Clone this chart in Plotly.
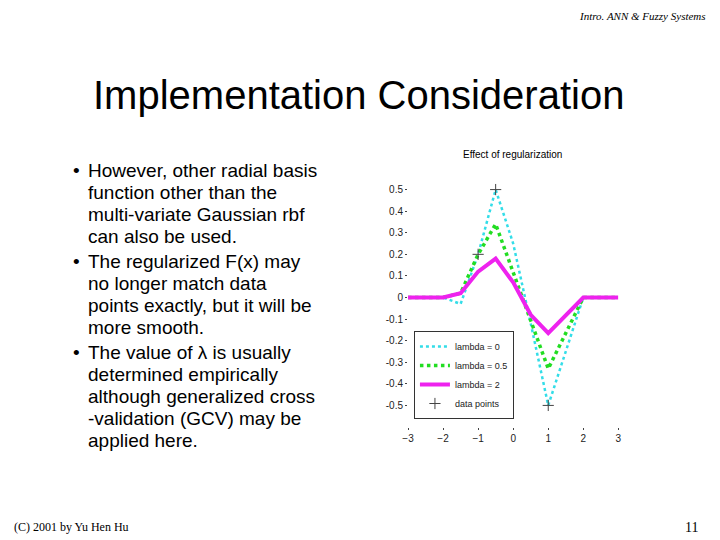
import plotly.graph_objects as go

x = [-3, -2, -1.5, -1, -0.5, 0, 0.5, 1, 2, 3]
lam0 = [0, 0, -0.03, 0.2, 0.5, 0.25, -0.12, -0.5, 0, 0]
lam05 = [0, 0, 0.02, 0.2, 0.34, 0.12, -0.1, -0.33, 0, 0]
lam2 = [0, 0, 0.02, 0.12, 0.18, 0.07, -0.08, -0.165, 0, 0]
data_x = [-1, -0.5, 1]
data_y = [0.2, 0.5, -0.5]
ytick_vals = [-0.5, -0.4, -0.3, -0.2, -0.1, 0, 0.1, 0.2, 0.3, 0.4, 0.5]
ytick_text = ["-0.5", "-0.4", "-0.3", "-0.2", "-0.1", "0", "0.1", "0.2", "0.3", "0.4", "0.5"]

bullets = [
    ["However, other radial basis", "function other than the",
     "multi-variate Gaussian rbf", "can also be used."],
    ["The regularized F(x) may", "no longer match data",
     "points exactly, but it will be", "more smooth."],
    ["The value of λ is usually", "determined empirically",
     "although generalized cross", "-validation (GCV) may be", "applied here."],
]

# the page body shifts the figure by ~8px, so positions are compensated
OFF = 8
W, H = 720, 540


def px(v):
    return (v - OFF) / W


def py(v):
    return 1 - (v - OFF) / H


fig = go.Figure()
fig.add_trace(go.Scatter(x=x, y=lam0, name="lambda = 0", mode="lines",
                         line=dict(color="#33dde8", width=2.5, dash="dot")))
fig.add_trace(go.Scatter(x=x, y=lam05, name="lambda = 0.5", mode="lines",
                         line=dict(color="#22dd22", width=3.5, dash="dot")))
fig.add_trace(go.Scatter(x=x, y=lam2, name="lambda = 2", mode="lines",
                         line=dict(color="#ee22ee", width=4)))
fig.add_trace(go.Scatter(x=data_x, y=data_y, name="data points", mode="markers",
                         marker=dict(symbol="cross-thin", size=8, color="black",
                                     line=dict(color="#444", width=1))))

ann = []
y0 = 170
for group in bullets:
    for i, line in enumerate(group):
        ann.append(dict(x=px(81), y=py(y0), text=line, xanchor="left",
                        font=dict(family="Liberation Sans", size=19)))
        if i == 0:
            ann.append(dict(x=px(66), y=py(y0), text="•", xanchor="left",
                            font=dict(family="Liberation Sans", size=19)))
        y0 += 22
    y0 += 3

ann += [
    dict(x=px(711), y=py(16), text="<i>Intro. ANN & Fuzzy Systems</i>", xanchor="right",
         font=dict(family="Liberation Serif", size=11)),
    dict(x=px(357), y=py(95), text="Implementation Consideration", xanchor="center",
         font=dict(family="Liberation Sans", size=40)),
    dict(x=px(6), y=py(527), text="(C) 2001 by Yu Hen Hu", xanchor="left",
         font=dict(family="Liberation Serif", size=12)),
    dict(x=px(703), y=py(527), text="11", xanchor="right",
         font=dict(family="Liberation Serif", size=14)),
    dict(x=px(513), y=py(155), text="Effect of regularization", xanchor="center",
         font=dict(family="Liberation Sans", size=10)),
]
for a in ann:
    a.update(xref="paper", yref="paper", showarrow=False, yanchor="middle")
    a["font"]["color"] = "black"

fig.update_layout(
    width=W, height=H, margin=dict(l=0, r=0, t=0, b=0),
    paper_bgcolor="white", plot_bgcolor="white",
    annotations=ann,
    showlegend=True,
    legend=dict(x=px(413), y=py(419), xanchor="left", yanchor="bottom",
                bgcolor="white", bordercolor="#333", borderwidth=1,
                font=dict(family="Liberation Sans", size=9, color="#222"),
                tracegroupgap=0, itemwidth=30),
    xaxis=dict(domain=[px(407), px(620)], range=[-3, 3], tickvals=[-3, -2, -1, 0, 1, 2, 3],
               showgrid=False, zeroline=False, showline=False, ticks="outside", ticklen=2,
               tickfont=dict(family="Liberation Sans", size=10, color="#222")),
    yaxis=dict(domain=[py(427), py(168)], range=[-0.6, 0.6],
               tickvals=ytick_vals, ticktext=ytick_text,
               showgrid=False, zeroline=False, showline=False,
               ticks="outside", ticklen=2,
               tickfont=dict(family="Liberation Sans", size=10, color="#222")),
)
fig.write_html("out.html")
